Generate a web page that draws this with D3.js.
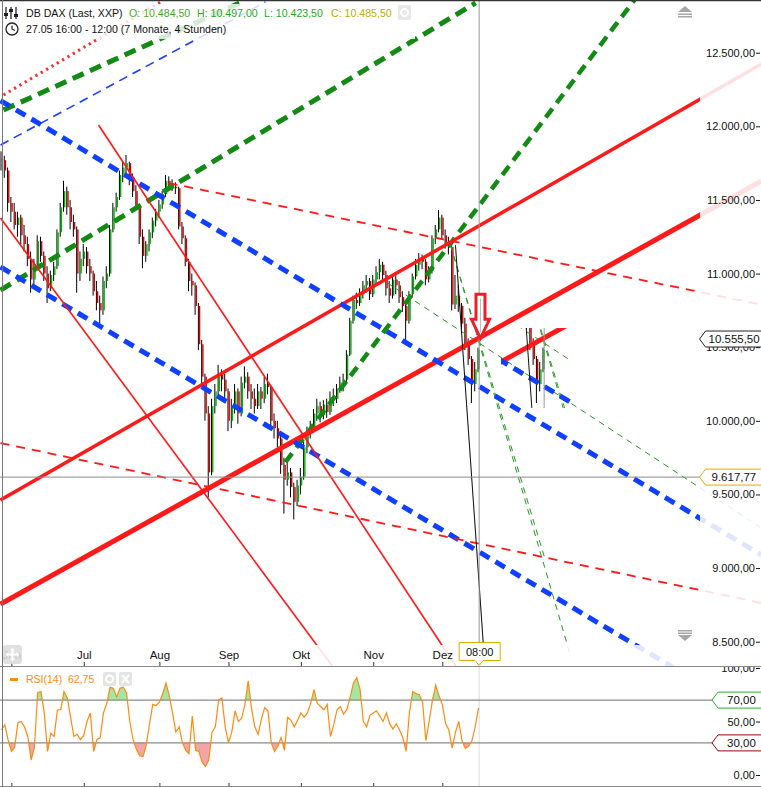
<!DOCTYPE html>
<html><head><meta charset="utf-8">
<script src="https://cdn.jsdelivr.net/npm/d3@7"></script>
<style>body{margin:0;background:#fff;} svg{display:block;font-family:"Liberation Sans",Arial,sans-serif;}</style>
</head><body><svg id="c" width="761" height="787"></svg>
<script>
// ---------------- DATA ----------------
const monthLabels = ["Jun","Jul","Aug","Sep","Okt","Nov","Dez"];
const monthIdx = [3,25,48,69,91,113,134];          // trading-day index of month start
const priceTicks = [8500,9000,9500,10000,10500,11000,11500,12000,12500];
const rsiTicks = [0,50,100];
const rsiLevels = [70,30];
const lastPrice = 10555.5;
const crossPrice = 9617.77;
const crossIdx = 145.2;
const crossTime = "08:00";
const headerTitle = "DB DAX (Last, XXP)";
const headerOHLC = ["O: 10.484,50","H: 10.497,00","L: 10.423,50","C: 10.485,50"];
const headerRange = "27.05 16:00 - 12:00 (7 Monate, 4 Stunden)";
const rsiTitle = "RSI(14)";
const rsiValueText = "62,75";
// daily bars: open, high, low, close
const bars = [
[11780,11830,11700,11770],[11770,11800,11650,11700],[11700,11720,11420,11480],[11480,11520,11350,11420],
[11420,11480,11300,11330],[11330,11420,11250,11380],[11380,11400,11200,11260],[11260,11330,11150,11200],
[11200,11250,11050,11100],[11100,11150,10870,10960],[10960,11100,10920,11060],[11060,11260,11040,11220],
[11220,11250,11080,11120],[11120,11150,10950,11000],[11000,11050,10800,10900],[10900,11020,10880,10990],
[10990,11080,10950,11050],[11050,11300,11030,11280],[11280,11480,11250,11450],[11450,11630,11420,11560],
[11560,11590,11400,11450],[11450,11500,11300,11350],[11350,11400,11250,11300],[11300,11320,10870,11000],
[11000,11150,10950,11100],[11100,11200,11050,11150],[11150,11180,11000,11050],[11050,11100,10950,11000],
[11000,11020,10850,10880],[10880,10950,10750,10800],[10800,10850,10660,10750],[10750,10980,10720,10950],
[10950,11050,10900,11000],[11000,11330,10980,11300],[11300,11480,11280,11450],[11450,11550,11420,11520],
[11520,11700,11500,11670],[11670,11760,11620,11720],[11720,11805,11680,11750],[11750,11760,11600,11640],
[11640,11680,11520,11560],[11560,11600,11430,11450],[11450,11470,11200,11250],[11250,11300,11036,11120],
[11120,11220,11080,11200],[11200,11300,11150,11280],[11280,11380,11240,11360],[11360,11440,11320,11420],
[11420,11500,11380,11470],[11470,11560,11440,11540],[11540,11670,11520,11630],[11630,11660,11560,11600],
[11600,11640,11560,11590],[11590,11620,11540,11580],[11580,11590,11300,11320],[11320,11350,11200,11240],
[11240,11260,11050,11080],[11080,11100,10880,10950],[10950,11000,10850,10920],[10920,10940,10720,10780],
[10780,10800,10480,10520],[10520,10550,10250,10300],[10300,10320,10000,10050],[10050,10100,9480,9650],
[9650,10150,9630,10100],[10100,10250,10050,10200],[10200,10380,10150,10320],[10320,10350,10200,10280],
[10280,10320,10150,10200],[10200,10220,9930,10000],[10000,10150,9950,10100],[10100,10250,10050,10200],
[10200,10220,9980,10050],[10050,10300,10030,10260],[10260,10370,10220,10300],[10300,10330,10150,10200],
[10200,10250,10080,10150],[10150,10220,10050,10100],[10100,10250,10080,10200],[10200,10230,10080,10150],
[10150,10300,10120,10250],[10250,10320,10180,10230],[10230,10240,9950,10000],[10000,10050,9880,9950],
[9950,10000,9820,9880],[9880,9900,9640,9700],[9700,9750,9370,9600],[9600,9720,9560,9650],
[9650,9680,9480,9550],[9550,9580,9330,9450],[9450,9600,9420,9560],[9560,9680,9500,9620],
[9620,9860,9600,9820],[9820,9960,9780,9920],[9920,10000,9880,9960],[9960,10080,9920,10050],
[10050,10150,10000,10100],[10100,10130,9990,10040],[10040,10140,10010,10110],[10110,10150,10020,10060],
[10060,10200,10040,10160],[10160,10220,10100,10150],[10150,10250,10120,10220],[10220,10300,10190,10260],
[10260,10320,10200,10280],[10280,10480,10260,10450],[10450,10700,10440,10680],[10680,10850,10660,10820],
[10820,10870,10760,10800],[10800,10900,10780,10860],[10860,10950,10830,10920],[10920,10990,10870,10950],
[10950,10970,10820,10860],[10860,10990,10840,10960],[10960,11050,10930,11010],[11010,11100,10960,11060],
[11060,11080,10950,10990],[10990,11020,10850,10900],[10900,10950,10800,10850],[10850,10990,10830,10960],
[10960,11000,10860,10920],[10920,10950,10800,10840],[10840,10880,10740,10780],[10780,10800,10550,10680],
[10680,10880,10660,10860],[10860,11000,10840,10980],[10980,11100,10960,11060],[11060,11140,11020,11100],
[11100,11130,11030,11080],[11080,11100,10920,10960],[10960,11050,10940,11020],[11020,11260,11000,11240],
[11240,11330,11200,11300],[11300,11432,11280,11380],[11380,11400,11240,11260],[11260,11300,11170,11210],
[11210,11250,11130,11180],[11180,11200,10750,10790],[10790,10990,10760,10850],[10850,10920,10740,10780],
[10780,10800,10620,10660],[10660,10700,10480,10520],[10520,10560,10380,10420],[10420,10440,10121,10250],
[10250,10400,10200,10350],[10350,10497,10330,10485]
];
const rsi = [42,47,33,22,26,49,50,45,36,14, 26,77,78,58,22,39,36,61,61,78,
72,54,36,38,33,37,50,58,22,33, 35,58,67,82,81,73,81,82,77,50,
33,24,18,17,28,48,66,65,68,76, 86,74,58,40,45,30,23,20,55,23,
22,12,8,14,40,45,70,72,45,30, 40,60,50,53,66,88,62,45,38,52,
63,60,30,22,27,35,23,54,51,45, 51,58,54,58,67,80,67,64,61,66,
36,47,61,64,57,61,73,86,91,80, 50,45,56,58,60,55,50,58,48,43,
48,42,35,22,58,78,76,75,68,32, 50,70,84,74,66,48,42,25,40,50,
32,25,27,32,45,62.75];
// trend lines: [index, price] start / end
const lineNames = ["redDotted","blueThin","greenUp1","greenUp2","greenSteep","greenFanA","greenFanB","greenFanC",
  "redLower","redUpper","blueUpper","blueLower","redFall1","redFall2","redDash1","redDash2","blackFall"];
const lineStart = [[0.6,12213],[-0.3,11873],[0.6,12111],[-0.3,10888],[86.3,9720],[117.3,10936],[136.5,11193],[136.5,11193],
  [-0.3,8756],[-0.3,9462],[-0.3,12175],[-0.3,11045],[-0.3,11377],[29.5,12009],[50.8,11615],[-0.3,9849],[138,11193]];
const lineEnd = [[48.3,12844],[80.2,12844],[73.6,12851],[144.1,12838],[192.4,12858],[231,9272],[172.9,8410],[165.3,9055],
  [231,11629],[231,12423],[231,9089],[231,7968],[109.1,8077],[142.6,8182],[231,10789],[231,8763],[146.8,8376]];

// ---------------- STYLES ----------------
const styleOf = {
  redDotted:{c:"#ff2a2a",w:3,d:"2.2,4"},
  blueThin:{c:"#1f40ff",w:1.6,d:"9,6"},
  greenUp1:{c:"#138a13",w:5,d:"12,7"},
  greenUp2:{c:"#138a13",w:5,d:"12,7"},
  greenSteep:{c:"#138a13",w:4.5,d:"11,7"},
  greenFanA:{c:"#2e9a2e",w:1,d:"6,5"},
  greenFanB:{c:"#2e9a2e",w:1,d:"6,5"},
  greenFanC:{c:"#2e9a2e",w:1,d:"6,5"},
  redLower:{c:"#ff1a1a",w:5,d:null},
  redUpper:{c:"#ff1a1a",w:3.5,d:null},
  blueUpper:{c:"#1040ff",w:5,d:"11,7"},
  blueLower:{c:"#1040ff",w:5,d:"11,7"},
  redFall1:{c:"#ff1a1a",w:1.6,d:null},
  redFall2:{c:"#ff1a1a",w:1.6,d:null},
  redDash1:{c:"#ff1a1a",w:1.8,d:"9,7"},
  redDash2:{c:"#ff1a1a",w:1.8,d:"9,7"},
  blackFall:{c:"#111",w:1,d:null}
};
const FONT = "Liberation Sans, Arial, sans-serif";

// ---------------- SETUP ----------------
const svg = d3.select("#c");
const W = 761, plotR = 700, plotB = 645, mainB = 666, rsiB = 786;
const x = d3.scaleLinear().domain([0,145]).range([1.5,478.5]);
const y = d3.scaleLinear().domain([8500,12500]).range([641.7,52.7]);
const ry = d3.scaleLinear().domain([0,100]).range([775,668]);
const loc = d3.formatLocale({decimal:",",thousands:".",grouping:[3],currency:["",""]});
const fmt = loc.format(",.2f");

const defs = svg.append("defs");
function clip(id,x0,y0,w,h){defs.append("clipPath").attr("id",id).append("rect").attr("x",x0).attr("y",y0).attr("width",w).attr("height",h);}
clip("cPlot",0,0,plotR,plotB);
clip("cPanel",0,0,W,mainB);
clip("cInset",501,328,71,80);
clip("cRsi",0,mainB+1,plotR,rsiB-mainB-1);
clip("cAbove",0,mainB+1,plotR,ry(70)-mainB-1);
clip("cBelow",0,ry(30),plotR,rsiB-ry(30));
clip("cRsiAx",-100,mainB+1,110,rsiB-mainB);

svg.append("rect").attr("width",W).attr("height",787).attr("fill","#fff");

function drawLines(g){
  lineNames.forEach((n,i)=>{
    const s = styleOf[n];
    g.append("line")
      .attr("x1",x(lineStart[i][0])).attr("y1",y(lineStart[i][1]))
      .attr("x2",x(lineEnd[i][0])).attr("y2",y(lineEnd[i][1]))
      .attr("stroke",s.c).attr("stroke-width",s.w)
      .attr("stroke-dasharray",s.d);
  });
}
// pale extension of lines in axis zones
const pale = svg.append("g").attr("clip-path","url(#cPanel)").attr("opacity",0.13);
drawLines(pale);

// main marks
const marks = svg.append("g").attr("id","marks").attr("clip-path","url(#cPlot)");
const candles = marks.append("g");
bars.forEach((b,i)=>{
  const [o,h,l,c] = b;
  const cx = x(i);
  candles.append("line").attr("x1",cx-0.5).attr("x2",cx-0.5).attr("y1",y(h)).attr("y2",y(l))
    .attr("stroke","#000").attr("stroke-width",1);
  const top = y(Math.max(o,c)), bot = y(Math.min(o,c));
  candles.append("rect").attr("x",cx).attr("width",1.4)
    .attr("y",top).attr("height",Math.max(1,bot-top))
    .attr("fill", c>=o ? "#00b400" : "#d40000");
});
drawLines(marks);
// crosshair lines
marks.append("line").attr("x1",x(crossIdx)).attr("x2",x(crossIdx)).attr("y1",0).attr("y2",mainB)
  .attr("stroke","#999").attr("stroke-width",1);
svg.append("line").attr("x1",0).attr("x2",plotR).attr("y1",y(crossPrice)).attr("y2",y(crossPrice))
  .attr("stroke","#8a8a8a").attr("stroke-width",1);
svg.append("line").attr("x1",x(crossIdx)).attr("x2",x(crossIdx)).attr("y1",mainB).attr("y2",rsiB)
  .attr("stroke","#ddd").attr("stroke-width",1);

// ghost inset copy
svg.append("g").attr("clip-path","url(#cInset)")
  .append("use").attr("href","#marks").attr("transform","translate(65,0)");

// arrow annotation at the break point
const ax = x(145.6), ay = y(10560);
svg.append("path")
  .attr("d",`M${ax},${ay} L${ax-9},${ay-19} L${ax-4.5},${ay-19} L${ax-4.5},${ay-44} L${ax+4.5},${ay-44} L${ax+4.5},${ay-19} L${ax+9},${ay-19} Z`)
  .attr("fill","#fff").attr("stroke","#e8202a").attr("stroke-width",3).attr("stroke-linejoin","miter");
svg.append("line").attr("x1",ax).attr("x2",ax).attr("y1",ay-40).attr("y2",ay-6).attr("stroke","#bbb").attr("stroke-width",1);

// header box
svg.append("rect").attr("x",0).attr("y",4).attr("width",415).attr("height",35).attr("fill","#fff").attr("opacity",0.82);

// ---------------- PRICE AXIS ----------------
const pAxis = svg.append("g").attr("transform","translate(760,0)")
  .call(d3.axisLeft(y).tickValues(priceTicks).tickFormat(fmt).tickSize(4).tickPadding(1));
pAxis.select(".domain").remove();
pAxis.selectAll("text").attr("font-size",11).attr("fill","#111").attr("font-family",FONT);
pAxis.selectAll("line").attr("stroke","#111");

// x axis
const xAxis = svg.append("g").attr("transform",`translate(0,${mainB})`)
  .call(d3.axisTop(x).tickValues(monthIdx).tickFormat((d,i)=>monthLabels[i]).tickSize(4).tickPadding(3));
xAxis.select(".domain").remove();
xAxis.selectAll("text").attr("font-size",11.5).attr("fill","#111").attr("font-family",FONT);
xAxis.selectAll("line").attr("stroke","#333");
const xAxis2 = svg.append("g").attr("transform",`translate(0,${rsiB})`)
  .call(d3.axisTop(x).tickValues(monthIdx).tickFormat("").tickSize(3));
xAxis2.select(".domain").remove();
xAxis2.selectAll("line").attr("stroke","#333");

// scroll triangles
function upIcon(cx,cy){
  svg.append("path").attr("d",`M${cx-7},${cy+2} L${cx},${cy-4} L${cx+7},${cy+2} Z`).attr("fill","#a6a6a6");
  svg.append("rect").attr("x",cx-7).attr("y",cy+3.5).attr("width",14).attr("height",1.5).attr("fill","#a6a6a6");
  svg.append("rect").attr("x",cx-7).attr("y",cy+6).attr("width",14).attr("height",1.5).attr("fill","#a6a6a6");
}
function downIcon(cx,cy){
  svg.append("rect").attr("x",cx-7).attr("y",cy-6).attr("width",14).attr("height",1.5).attr("fill","#a6a6a6");
  svg.append("rect").attr("x",cx-7).attr("y",cy-3.5).attr("width",14).attr("height",1.5).attr("fill","#a6a6a6");
  svg.append("path").attr("d",`M${cx-7},${cy-1} L${cx},${cy+5} L${cx+7},${cy-1} Z`).attr("fill","#a6a6a6");
}
upIcon(685,10); downIcon(685,636);

// value label boxes
function tag(yc,text,color,tipX,boxX,textX,h){
  const g = svg.append("g");
  g.append("path").attr("d",`M${tipX},${yc} L${boxX},${yc-h/2} L${W+2},${yc-h/2} L${W+2},${yc+h/2} L${boxX},${yc+h/2} Z`)
    .attr("fill","#fff").attr("stroke",color).attr("stroke-width",1);
  g.append("text").attr("x",textX).attr("y",yc+4).attr("font-size",11.5).attr("fill","#111").attr("font-family",FONT).text(text);
}
tag(y(lastPrice),fmt(lastPrice),"#222",699.5,705.5,708.5,16);
tag(y(crossPrice),fmt(crossPrice),"#e0aa00",699.5,705.5,711.5,16);

// time tag
{
  const tx = x(crossIdx), g = svg.append("g");
  g.append("path").attr("d",`M${tx-20},642.5 L${tx+21},642.5 L${tx+21},660.5 L${tx+4},660.5 L${tx},665.5 L${tx-4},660.5 L${tx-20},660.5 Z`)
    .attr("fill","#fff").attr("stroke","#e0aa00").attr("stroke-width",1);
  g.append("text").attr("x",tx+0.5).attr("y",655.5).attr("text-anchor","middle").attr("font-size",11).attr("fill","#111").text(crossTime);
}

// move icon bottom-left
svg.append("rect").attr("x",3).attr("y",645).attr("width",19).attr("height",19).attr("rx",3).attr("fill","#dcdcdc").attr("opacity",0.88);
svg.append("path").attr("d","M7,654.5 L18,654.5 M12.5,649 L12.5,660").attr("stroke","#fff").attr("stroke-width",2);
svg.append("path").attr("d","M12.5,647.5 L10,650.5 L15,650.5 Z M12.5,661.5 L10,658.5 L15,658.5 Z M5.5,654.5 L8.5,652 L8.5,657 Z M19.5,654.5 L16.5,652 L16.5,657 Z").attr("fill","#fff");

// ---------------- RSI PANEL ----------------
const line = d3.line().x((d,i)=>x(i)).y(d=>ry(d));
svg.append("path").datum(rsi).attr("clip-path","url(#cAbove)")
  .attr("d",d3.area().x((d,i)=>x(i)).y0(ry(70)).y1(d=>ry(d)))
  .attr("fill","#a4e6a4");
svg.append("path").datum(rsi).attr("clip-path","url(#cBelow)")
  .attr("d",d3.area().x((d,i)=>x(i)).y0(ry(30)).y1(d=>ry(d)))
  .attr("fill","#eea6a6");
rsiLevels.forEach(v=>{
  svg.append("line").attr("x1",0).attr("x2",plotR+12).attr("y1",ry(v)).attr("y2",ry(v)).attr("stroke","#8a8a8a").attr("stroke-width",1.2);
});
svg.append("path").datum(rsi).attr("clip-path","url(#cRsi)").attr("d",line)
  .attr("fill","none").attr("stroke","#ff8a10").attr("stroke-width",1.2);

const rAxis = svg.append("g").attr("transform","translate(760,0)").attr("clip-path","url(#cRsiAx)")
  .call(d3.axisLeft(ry).tickValues(rsiTicks).tickFormat(fmt).tickSize(4).tickPadding(1));
rAxis.select(".domain").remove();
rAxis.selectAll("text").attr("font-size",11).attr("fill","#111").attr("font-family",FONT);
rAxis.selectAll("line").attr("stroke","#111");
tag(ry(70),"70,00","#22b322",712,718,727,16);
tag(ry(30),"30,00","#a00000",712,718,727,16);

// RSI title
svg.append("rect").attr("x",10).attr("y",678).attr("width",8).attr("height",3).attr("fill","#ff8a10");
svg.append("text").attr("x",26).attr("y",683).attr("font-size",10.5).attr("fill","#ff8a10").text(rsiTitle);
svg.append("text").attr("x",68).attr("y",683).attr("font-size",10.5).attr("fill","#ff8a10").text(rsiValueText);
svg.append("rect").attr("x",103).attr("y",672).attr("width",13).attr("height",14).attr("rx",2).attr("fill","#e4e4e4");
svg.append("circle").attr("cx",109.5).attr("cy",679).attr("r",3.5).attr("fill","none").attr("stroke","#fff").attr("stroke-width",2);
svg.append("rect").attr("x",119).attr("y",672).attr("width",13).attr("height",14).attr("rx",2).attr("fill","#e4e4e4");
svg.append("path").attr("d","M122,675 L129,683 M129,675 L122,683").attr("stroke","#fff").attr("stroke-width",2);

// ---------------- HEADER ----------------
{
  const g = svg.append("g").attr("font-family",FONT);
  [6,11,16].forEach((cx,i)=>{
    g.append("line").attr("x1",cx).attr("x2",cx).attr("y1",7).attr("y2",19).attr("stroke","#222").attr("stroke-width",1.3);
    g.append("rect").attr("x",cx-2).attr("y",[13,9,14][i]).attr("width",4).attr("height",3).attr("fill","#222");
  });
  g.append("text").attr("x",26).attr("y",17).attr("font-size",10.6).attr("fill","#111").text(headerTitle);
  const ohlcX = [129,197,264,331], ohlcC = ["#3fae22","#22aa22","#22aa22","#b5b000"];
  headerOHLC.forEach((t,i)=>g.append("text").attr("x",ohlcX[i]).attr("y",17).attr("font-size",10.6).attr("fill",ohlcC[i]).text(t));
  g.append("rect").attr("x",398).attr("y",5).attr("width",13).attr("height",15).attr("rx",2).attr("fill","#e8e8e8");
  g.append("circle").attr("cx",404.5).attr("cy",12.5).attr("r",3.5).attr("fill","none").attr("stroke","#fff").attr("stroke-width",2);
  g.append("circle").attr("cx",12).attr("cy",29).attr("r",6).attr("fill","none").attr("stroke","#222").attr("stroke-width",1.3);
  g.append("path").attr("d","M12,25.5 L12,29 L15,30.5").attr("fill","none").attr("stroke","#222").attr("stroke-width",1.2);
  g.append("text").attr("x",26).attr("y",33).attr("font-size",10.6).attr("fill","#111").text(headerRange);
}

// ---------------- FRAME ----------------
svg.append("line").attr("x1",0).attr("x2",W).attr("y1",0.5).attr("y2",0.5).attr("stroke","#333").attr("stroke-width",1.5);
svg.append("line").attr("x1",0).attr("x2",W).attr("y1",mainB+0.5).attr("y2",mainB+0.5).attr("stroke","#888");
svg.append("line").attr("x1",0).attr("x2",W).attr("y1",rsiB+0.5).attr("y2",rsiB+0.5).attr("stroke","#888");
svg.append("line").attr("x1",2.5).attr("x2",2.5).attr("y1",0).attr("y2",787).attr("stroke","#777");
</script></body></html>
